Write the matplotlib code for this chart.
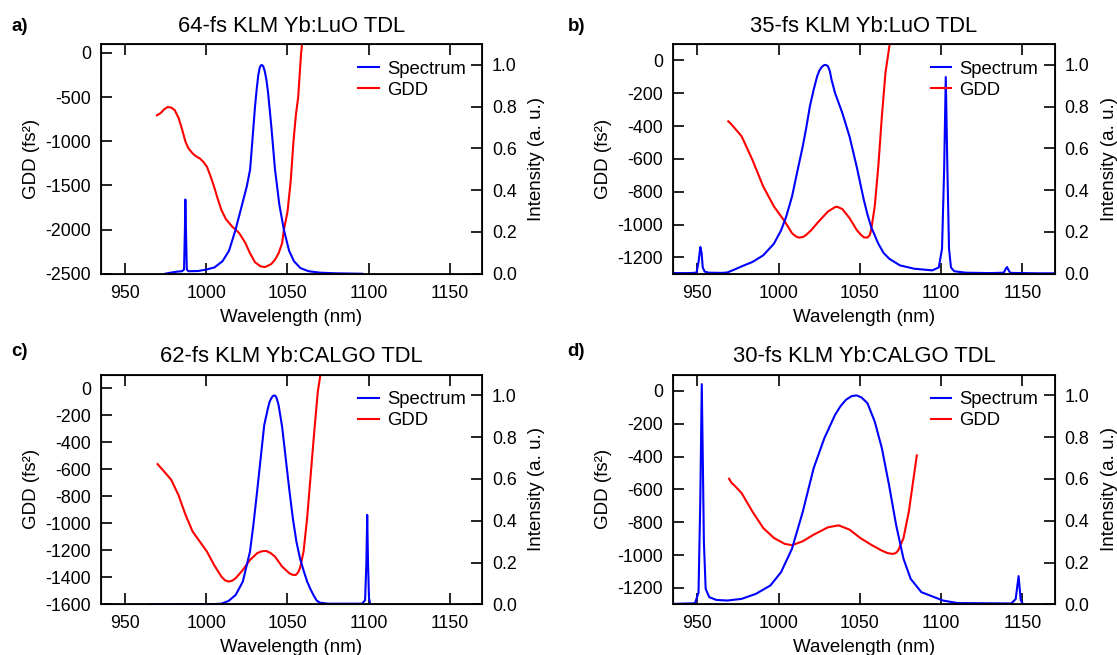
import matplotlib
matplotlib.use('Agg')
import matplotlib.pyplot as plt

plt.rcParams['font.family'] = ['Liberation Sans', 'DejaVu Sans']
plt.rcParams['axes.unicode_minus'] = False

# a) 64-fs KLM Yb:LuO
esp_a_wl = [974.7, 978, 982, 985, 986.3, 986.8, 987.1, 987.5, 988, 989, 995, 1000, 1005, 1010,
            1014, 1018, 1022, 1025, 1027, 1028, 1029, 1030, 1031, 1032, 1033, 1034, 1035, 1036,
            1037, 1038, 1040, 1042.3, 1045, 1047.8, 1051, 1054, 1058, 1063, 1070, 1080, 1096]
esp_a = [0.0, 0.005, 0.01, 0.012, 0.02, 0.2, 0.355, 0.2, 0.02, 0.012, 0.013, 0.02, 0.03, 0.06,
         0.11, 0.21, 0.33, 0.42, 0.5, 0.6, 0.7, 0.8, 0.88, 0.95, 0.99, 1.0, 0.995, 0.97,
         0.93, 0.87, 0.71, 0.5, 0.33, 0.21, 0.11, 0.06, 0.027, 0.012, 0.005, 0.002, 0.0]
gdd_a_wl = [969.6, 972, 974, 976.2, 978.5, 980.6, 983, 985, 987.2, 989, 991.6, 994, 996, 998,
            1000.4, 1002.5, 1004.8, 1007, 1009.3, 1012, 1015.9, 1018, 1020.3, 1024, 1026.9, 1030,
            1033.5, 1036, 1037.9, 1040, 1042.3, 1044.5, 1046.7, 1047.8, 1050, 1052, 1053.7,
            1055.2, 1056.6, 1058.4, 1059, 1060]
gdd_a = [-707, -680, -640, -613, -620, -650, -740, -860, -1007, -1080, -1139, -1175, -1195, -1230,
         -1289, -1390, -1515, -1650, -1778, -1880, -1966, -2000, -2041, -2150, -2267, -2370,
         -2417, -2425, -2410, -2390, -2342, -2270, -2154, -2000, -1800, -1450, -1000,
         -700, -500, 0, 100, 350]

# b) 35-fs KLM Yb:LuO
esp_b_wl = [935, 945, 949.5, 950.8, 951.8, 952.6, 953.3, 954.5, 957, 965, 968.4, 972.8, 977.2,
            983.8, 990.5, 997.1, 1001.5, 1004.5, 1008.2, 1011.5, 1014.8, 1017, 1019.2, 1021.5,
            1023.7, 1025, 1026.5, 1028, 1029, 1030.3, 1031.5, 1032.5, 1034.7, 1039.2, 1043.6,
            1048, 1052.4, 1054.6, 1056.9, 1061.3, 1064.5, 1068, 1074.6, 1083.4, 1094.5, 1098.5,
            1100.5, 1101.8, 1102.8, 1103.8, 1104.8, 1106, 1108, 1115, 1130, 1138.5, 1139.8,
            1140.5, 1141.2, 1142.5, 1160, 1170]
esp_b = [0.003, 0.003, 0.005, 0.06, 0.128, 0.1, 0.03, 0.01, 0.005, 0.004, 0.006, 0.02, 0.035,
         0.056, 0.088, 0.144, 0.208, 0.27, 0.369, 0.49, 0.609, 0.7, 0.801, 0.88,
         0.946, 0.972, 0.99, 0.999, 1.0, 0.994, 0.97, 0.93, 0.865, 0.769, 0.657,
         0.513, 0.353, 0.285, 0.224, 0.144, 0.1, 0.072, 0.04, 0.024, 0.016, 0.03,
         0.12, 0.5, 0.942, 0.5, 0.12, 0.03, 0.012, 0.005, 0.003, 0.005, 0.025,
         0.032, 0.02, 0.004, 0.002, 0.002]
gdd_b_wl = [969, 970.5, 972.8, 977.2, 983.8, 990.5, 997.1, 1003.8, 1008.2, 1010.5, 1012.6, 1015,
            1017, 1020, 1023.7, 1030.3, 1034.7, 1036, 1039.2, 1043.6, 1048, 1050.5, 1052.4,
            1054.6, 1056, 1056.9, 1059.1, 1061.3, 1063.5, 1065.7, 1068.4, 1069.5]
gdd_b = [-371, -385, -411, -462, -605, -768, -890, -982, -1053, -1072, -1080, -1076,
         -1063, -1035, -992, -921, -894, -892, -906, -961, -1033, -1062, -1078,
         -1080, -1065, -1033, -890, -646, -340, -75, 106, 250]

# c) 62-fs KLM Yb:CALGO
esp_c_wl = [965, 1005, 1009.3, 1013.7, 1018.1, 1022.5, 1026.9, 1029, 1031.3, 1033.5, 1035.7, 1038,
            1039, 1040.1, 1041, 1041.9, 1042.6, 1043.2, 1044.5, 1046.7, 1048.9, 1051.1, 1053.3,
            1055.5, 1057.7, 1060, 1062.1, 1064.3, 1066.5, 1068, 1069.8, 1075, 1096, 1097.8,
            1098.6, 1099.1, 1099.6, 1100.2, 1101]
esp_c = [0.0, 0.001, 0.003, 0.016, 0.045, 0.109, 0.252, 0.38, 0.54, 0.7, 0.859, 0.94,
         0.97, 0.987, 0.997, 1.0, 0.997, 0.99, 0.955, 0.85, 0.7, 0.55, 0.412,
         0.3, 0.22, 0.16, 0.109, 0.07, 0.037, 0.018, 0.008, 0.003, 0.003, 0.02,
         0.2, 0.428, 0.2, 0.03, 0.0]
gdd_c_wl = [970, 972, 974, 978.4, 982.8, 987.2, 991.6, 996, 1000.4, 1004.8, 1009.3, 1011.5, 1013.7,
            1016, 1018.1, 1022.5, 1026.9, 1031.3, 1034, 1036.8, 1039.5, 1042.3, 1046.7, 1051.1,
            1053.2, 1055.1, 1056.5, 1057.7, 1059.9, 1062.1, 1064.3, 1066.5, 1068.7, 1070.3, 1071]
gdd_c = [-563, -590, -617, -679, -790, -938, -1062, -1136, -1210, -1309, -1395, -1422, -1432,
         -1425, -1407, -1346, -1272, -1222, -1208, -1205, -1220, -1247, -1321, -1370,
         -1382, -1383, -1365, -1333, -1210, -963, -642, -321, -25, 100, 250]

# d) 30-fs KLM Yb:CALGO
esp_d_wl = [935, 948.5, 950.7, 951.8, 952.7, 953.5, 954, 955.1, 957.3, 961.7, 968.4, 977.2, 986,
            994.9, 1001.5, 1008.2, 1014.8, 1021.5, 1028.1, 1034.7, 1038, 1041.4, 1045, 1048, 1051,
            1054.6, 1059.1, 1063.5, 1067.9, 1072.3, 1076.8, 1081.2, 1087.8, 1094.5, 1101.1, 1110,
            1127.7, 1143.1, 1145.8, 1147.6, 1148.9, 1150.2]
esp_d = [0.002, 0.005, 0.055, 0.5, 1.054, 0.6, 0.3, 0.074, 0.034, 0.021, 0.018, 0.026, 0.05,
         0.09, 0.154, 0.266, 0.442, 0.651, 0.795, 0.907, 0.948, 0.979, 0.997, 1.0, 0.99,
         0.963, 0.875, 0.747, 0.571, 0.378, 0.218, 0.122, 0.058, 0.038, 0.018, 0.006,
         0.005, 0.004, 0.025, 0.135, 0.02, 0.002]
gdd_d_wl = [969.5, 971, 972.8, 977.2, 983.8, 990.5, 997.1, 1003.8, 1008.2, 1014.8, 1021.5, 1030.3,
            1036.9, 1043.6, 1050.2, 1056.9, 1063.5, 1067, 1070.1, 1072, 1073.5, 1076.8, 1080.1,
            1083, 1085]
gdd_d = [-535, -560, -576, -622, -734, -835, -896, -932, -940, -916, -876, -831,
         -819, -845, -896, -937, -973, -988, -993, -988, -973, -896, -734,
         -531, -393]

titulos = ['64-fs KLM Yb:LuO TDL', '35-fs KLM Yb:LuO TDL',
           '62-fs KLM Yb:CALGO TDL', '30-fs KLM Yb:CALGO TDL']
letras = ['a)', 'b)', 'c)', 'd)']
espectros = [(esp_a_wl, esp_a), (esp_b_wl, esp_b), (esp_c_wl, esp_c), (esp_d_wl, esp_d)]
gdds = [(gdd_a_wl, gdd_a), (gdd_b_wl, gdd_b), (gdd_c_wl, gdd_c), (gdd_d_wl, gdd_d)]
gdd_lim = [-2500, -1300, -1600, -1300]
gdd_ticks = [list(range(-2500, 1, 500)), list(range(-1200, 1, 200)),
             list(range(-1600, 1, 200)), list(range(-1200, 1, 200))]
x_ticks = [950, 1000, 1050, 1100, 1150]
int_ticks = [0.0, 0.2, 0.4, 0.6, 0.8, 1.0]

fig = plt.figure(figsize=(11.17, 6.55), dpi=100)

posiciones = [[0.0902, 0.5821, 0.3416, 0.3507], [0.6025, 0.5821, 0.342, 0.3507],
              [0.0902, 0.0774, 0.3416, 0.3508], [0.6025, 0.0774, 0.342, 0.3508]]
letras_pos = [(0.0105, 0.953), (0.508, 0.953), (0.0105, 0.456), (0.508, 0.456)]

for i in range(4):
    ax = fig.add_axes(posiciones[i])
    ax2 = ax.twinx()
    l_gdd, = ax.plot(gdds[i][0], gdds[i][1], color='#ff0000', lw=1.5)
    l_esp, = ax2.plot(espectros[i][0], espectros[i][1], color='#0000ff', lw=1.5)

    ax.set_xlim(935, 1170)
    ax.set_ylim(gdd_lim[i], 100)
    ax2.set_ylim(0, 1.1)
    ax.set_xticks(x_ticks)
    ax.set_yticks(gdd_ticks[i])
    ax2.set_yticks(int_ticks)
    ax2.set_yticklabels(['%.1f' % t for t in int_ticks])

    ax.tick_params(axis='y', direction='in', length=8, width=1.2, labelsize=12.8, pad=7)
    ax.tick_params(axis='x', direction='in', length=8, width=1.2, top=True, labelsize=12.8, pad=8)
    ax2.tick_params(direction='in', length=8, width=1.2, labelsize=12.8, pad=7)
    for s in ax2.spines.values():
        s.set_linewidth(1.3)

    ax.set_xlabel('Wavelength (nm)', fontsize=13.5, labelpad=5)
    ax.set_ylabel('GDD (fs²)', fontsize=13.5, labelpad=4)
    ax2.set_ylabel('Intensity (a. u.)', fontsize=13.5, labelpad=8)
    ax.set_title(titulos[i], fontsize=15.8, pad=9)

    ax2.legend([l_esp, l_gdd], ['Spectrum', 'GDD'], loc='upper right', frameon=False,
               fontsize=13.3, handlelength=1.1, handletextpad=0.45, labelspacing=0.22,
               borderaxespad=0.5)

    fig.text(letras_pos[i][0], letras_pos[i][1], letras[i], fontsize=13.5,
             fontweight='bold', va='baseline')

fig.savefig('out.png', dpi=100)
